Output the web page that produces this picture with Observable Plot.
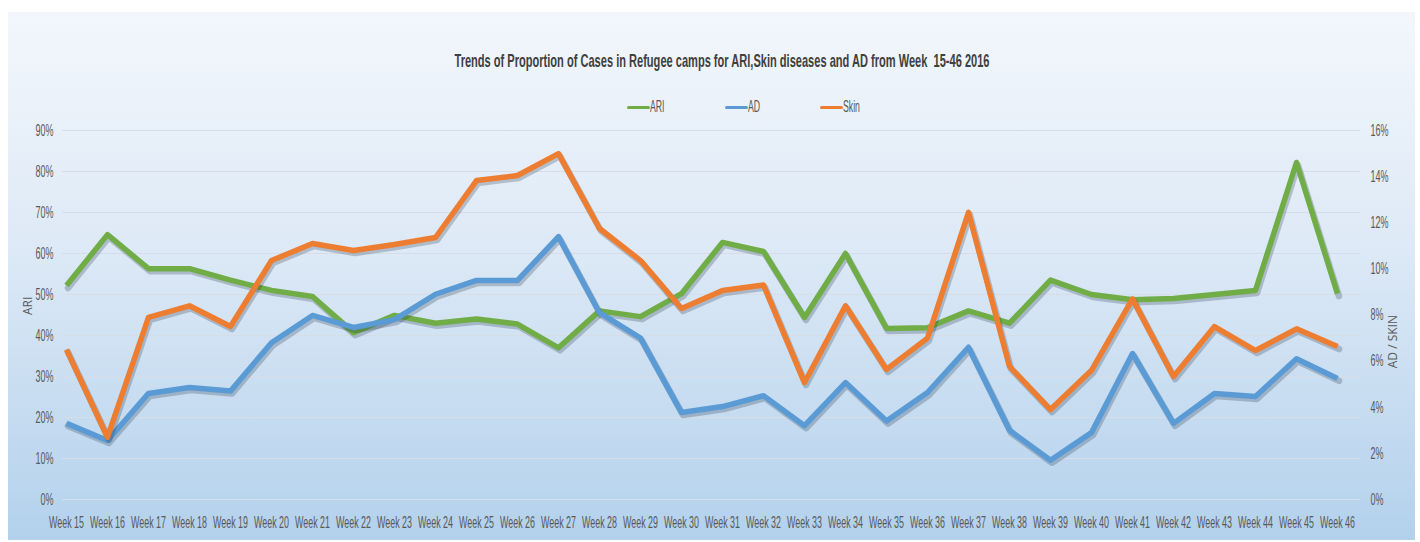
<!DOCTYPE html>
<html><head><meta charset="utf-8">
<script src="https://cdn.jsdelivr.net/npm/d3@7"></script>
<script src="https://cdn.jsdelivr.net/npm/@observablehq/plot@0.6"></script>
<style>
html,body{margin:0;padding:0;background:#fff;}
#wrap{position:relative;width:1420px;height:542px;overflow:hidden;background:#fff;}
#bg{position:absolute;left:8px;top:12px;width:1407px;height:528px;background:linear-gradient(#f3f7fc 0%,#dde9f6 45%,#b3d1ec 100%);}
#header{position:relative;height:118px;}
#title{position:absolute;left:722px;top:51px;white-space:nowrap;font-family:"Liberation Sans Narrow","Liberation Sans",sans-serif;font-weight:bold;font-size:19px;line-height:19px;color:#404040;transform-origin:center;}
.leg{position:absolute;top:98px;height:17px;white-space:nowrap;font-family:"Liberation Sans Narrow","Liberation Sans",sans-serif;font-size:16px;line-height:17px;color:#595959;}
.sw{position:absolute;left:0;top:7.5px;width:23px;height:3.5px;border-radius:2px;}
.lt{position:absolute;left:23px;top:0;transform-origin:left center;}
#chart{position:relative;}
</style></head>
<body>
<div id="wrap">
  <div id="bg"></div>
  <div id="header">
    <div id="title">Trends of Proportion of Cases in Refugee camps for ARI,Skin diseases and AD from Week&nbsp; 15-46 2016</div>
  </div>
  <div id="chart"></div>
</div>
<script>
const weeks = ["Week 15","Week 16","Week 17","Week 18","Week 19","Week 20","Week 21","Week 22","Week 23","Week 24","Week 25","Week 26","Week 27","Week 28","Week 29","Week 30","Week 31","Week 32","Week 33","Week 34","Week 35","Week 36","Week 37","Week 38","Week 39","Week 40","Week 41","Week 42","Week 43","Week 44","Week 45","Week 46"];
// ARI, percent (left axis)
const ari  = [52.2,64.6,56.3,56.3,53.5,51.0,49.5,40.7,44.9,43.0,44.0,42.8,37.0,46.0,44.6,50.2,62.7,60.5,44.4,60.0,41.7,41.9,46.0,43.0,53.5,50.0,48.7,49.0,50.0,51.0,82.2,50.2];
// AD, percent (right axis)
const ad   = [3.3,2.56,4.6,4.86,4.7,6.8,7.98,7.46,7.8,8.9,9.5,9.5,11.4,8.1,7.0,3.77,4.03,4.5,3.2,5.07,3.4,4.64,6.6,3.0,1.7,2.9,6.33,3.3,4.6,4.47,6.1,5.25];
// Skin, percent (right axis)
const skin = [6.5,2.7,7.9,8.4,7.5,10.36,11.1,10.8,11.06,11.36,13.83,14.05,15.0,11.75,10.36,8.28,9.06,9.3,5.07,8.4,5.64,7.0,12.45,5.77,3.9,5.6,8.7,5.33,7.5,6.46,7.4,6.63];
const leftTicks  = [0,10,20,30,40,50,60,70,80,90];
const rightTicks = [0,2,4,6,8,10,12,14,16];
const seriesNames  = ["ARI","AD","Skin"];
const seriesColors = ["#70ad47","#5b9bd5","#ed7d31"];

const leftMax = 90, rightMax = 16;
const k = leftMax / rightMax; // right-axis value -> left-axis units

const rows = [];
weeks.forEach((w,i) => {
  rows.push({week:w, series:"ARI",  v: ari[i]/100});
  rows.push({week:w, series:"AD",   v: ad[i]*k/100});
  rows.push({week:w, series:"Skin", v: skin[i]*k/100});
});

const lineMarks = [];
seriesNames.forEach((s,j) => {
  const d = rows.filter(r => r.series === s);
  lineMarks.push(Plot.line(d, {x:"week", y:"v", stroke:"#1a2a40", strokeOpacity:0.24, strokeWidth:6.5, dx:1.5, dy:2.5, strokeLinejoin:"round"}));
  lineMarks.push(Plot.line(d, {x:"week", y:"v", stroke:seriesColors[j], strokeWidth:5.5, strokeLinejoin:"round", strokeLinecap:"butt"}));
});

const plot = Plot.plot({
  width: 1420,
  height: 424,
  marginTop: 12,
  marginBottom: 43,
  marginLeft: 62,
  marginRight: 60,
  style: {background:"none", fontFamily:"'Liberation Sans Narrow','Liberation Sans',sans-serif", fontSize:"16.5px", color:"#595959", overflow:"visible"},
  x: {type:"point", domain: weeks, range:[62,1340], padding:0},
  y: {domain:[0, leftMax/100]},
  marks: [
    Plot.ruleY(leftTicks.map(t => t/100), {stroke:"#d6dde6", strokeWidth:1.2}),
    ...lineMarks,
    Plot.axisX({tickSize:0, tickPadding:17, label:null, fontSize:16.5}),
    Plot.axisY(leftTicks.map(t => t/100), {anchor:"left", tickSize:0, tickPadding:9, tickFormat: d => Math.round(d*100)+"%", label:null}),
    Plot.axisY(rightTicks.map(t => t*k/100), {anchor:"right", tickSize:0, tickPadding:10, tickFormat: d => Math.round(d*100/k)+"%", label:null, textAnchor:"start"}),
    Plot.text(["ARI"], {text: d => d, frameAnchor:"left", dx:-34, rotate:-90, fontSize:12, fill:"#595959", fontFamily:"'Open Sans',sans-serif", ariaLabel:"axis-title"}),
    Plot.text(["AD / SKIN"], {text: d => d, frameAnchor:"right", dx:33, rotate:-90, fontSize:12, fill:"#595959", fontFamily:"'Open Sans',sans-serif", ariaLabel:"axis-title"})
  ]
});
document.getElementById("chart").appendChild(plot);

// legend
const legX = [627, 725, 820];
const header = document.getElementById("header");
seriesNames.forEach((s,j) => {
  const it = document.createElement("div");
  it.className = "leg";
  it.style.left = legX[j] + "px";
  it.innerHTML = `<span class="sw" style="background:${seriesColors[j]}"></span><span class="lt">${s}</span>`;
  header.appendChild(it);
});

// condensed look of the original text (horizontal scale of each label)
const svg = plot.tagName.toLowerCase() === "svg" ? plot : plot.querySelector("svg");
function squeezeEl(t, g) {
  const tr = t.getAttribute("transform");
  if (tr) t.setAttribute("transform", tr + ` scale(${g.toFixed(4)},1)`);
  else {
    const x = +t.getAttribute("x") || 0, y = +t.getAttribute("y") || 0;
    t.removeAttribute("x"); t.removeAttribute("y");
    t.setAttribute("transform", `translate(${x},${y}) scale(${g.toFixed(4)},1)`);
  }
}
function squeeze(sel, refText, target) {
  const ts = Array.from(svg.querySelectorAll(sel));
  if (!ts.length) return 1;
  const ref = ts.find(t => t.textContent === refText) || ts[ts.length-1];
  const w0 = ref.getComputedTextLength();
  const g = w0 > 0 ? Math.min(1, target / w0) : 1;
  ts.forEach(t => squeezeEl(t, g));
  return g;
}
squeeze('g[aria-label="x-axis tick label"] text', "Week 15", 35);
const f = squeeze('g[aria-label="y-axis tick label"] text', "90%", 18);
svg.querySelectorAll('g[aria-label="axis-title"] text').forEach(t => {
  t.setAttribute("letter-spacing", "3");
  t.style.letterSpacing = "3px";
});
document.querySelectorAll(".lt").forEach(el => { el.style.transform = `scaleX(${f})`; });
const title = document.getElementById("title");
const tw = title.getBoundingClientRect().width;
title.style.transform = `translateX(-50%) scaleX(${535/tw})`;
</script>
</body></html>
